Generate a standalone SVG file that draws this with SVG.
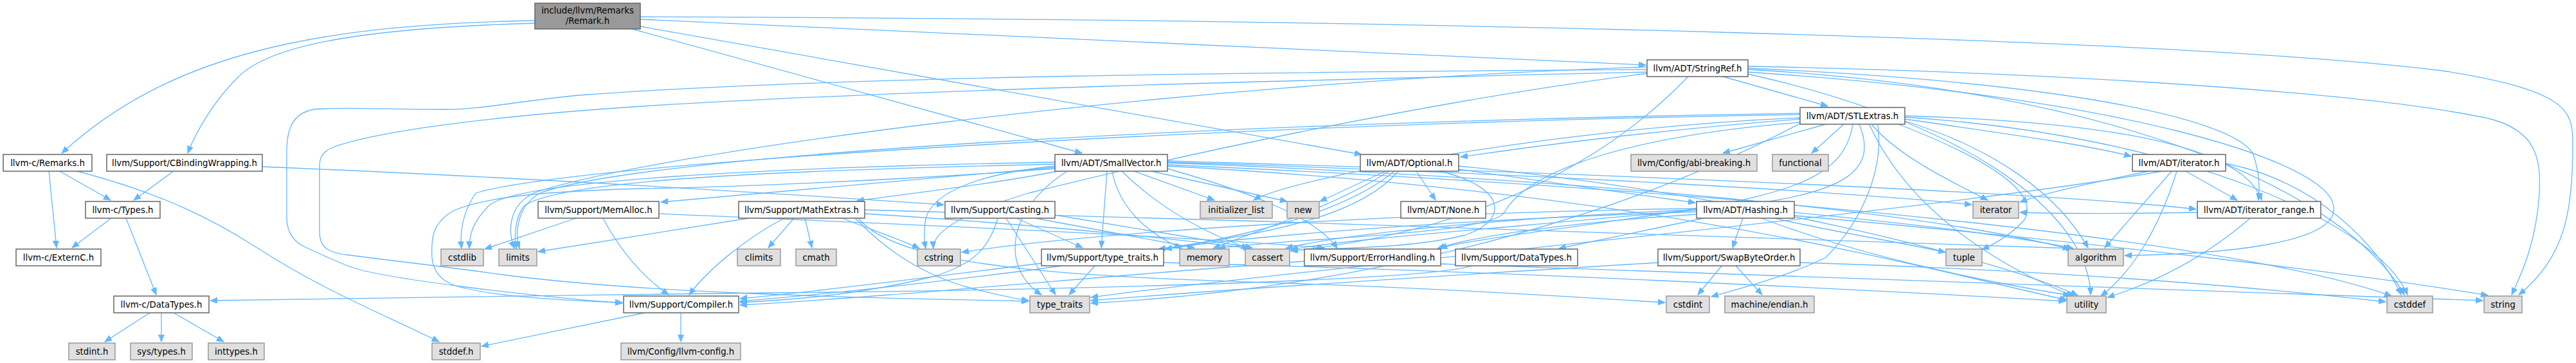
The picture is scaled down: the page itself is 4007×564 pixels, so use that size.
<svg xmlns="http://www.w3.org/2000/svg" width="4007" height="564" viewBox="0 0 4007 564">
<defs>
<marker id="a" markerWidth="12" markerHeight="10" refX="11" refY="4.5" orient="auto" markerUnits="userSpaceOnUse"><path d="M0,0 L11,4.5 L0,9 z" fill="#63b8ff" stroke="#63b8ff" stroke-width="1"/></marker>
<style>
.n rect{fill:#ffffff;stroke:#666666;stroke-width:1.5}
.g rect{fill:#e0e0e0;stroke:#999999;stroke-width:1.5}
.m rect{fill:#999999;stroke:#666666;stroke-width:1.5}
text{font-family:"DejaVu Sans","Liberation Sans",sans-serif;font-size:13.33px;text-anchor:middle;fill:#000000}
#edges path{fill:none;stroke:#63b8ff;stroke-width:1.3;marker-end:url(#a)}
</style>
</defs>
<rect x="0" y="0" width="4007" height="564" fill="#ffffff"/>
<g id="edges">
<path d="M832,32 C480,38 260,88 96,238"/>
<path d="M832,36 C560,44 420,70 370,120 C330,160 305,205 292,238"/>
<path d="M983,45 L1683,238"/>
<path d="M996,41 L2118,240"/>
<path d="M996,30 L2560,101"/>
<path d="M996,26 C2200,30 3400,60 3800,110 C3990,140 4002,170 4002,220 C4002,330 3990,400 3918,458"/>
<path d="M76,266 L88,385"/>
<path d="M93,266 L172,311"/>
<path d="M120,266 C250,300 330,340 400,385 C500,450 600,490 683,531"/>
<path d="M270,266 L208,311"/>
<path d="M408,259 C800,275 1200,300 1468,318"/>
<path d="M173,339 L112,385"/>
<path d="M196,339 L243,458"/>
<path d="M233,486 L163,531"/>
<path d="M251,486 L251,531"/>
<path d="M270,486 L348,531"/>
<path d="M1059,486 L1059,531"/>
<path d="M1003,486 L749,538"/>
<path d="M896,339 L754,387"/>
<path d="M938,339 C965,390 1000,430 1040,458"/>
<path d="M1025,332 C1400,348 1800,365 2060,385"/>
<path d="M1235,339 L1195,385"/>
<path d="M1252,339 L1263,385"/>
<path d="M1165,339 L837,391"/>
<path d="M1220,339 C1160,370 1100,420 1072,458"/>
<path d="M1310,339 C1350,355 1400,372 1430,386"/>
<path d="M1330,339 C1370,380 1420,420 1500,445 C1550,458 1580,464 1600,467"/>
<path d="M1345,332 C1600,348 1800,368 1945,386"/>
<path d="M1345,326 C2000,345 2900,370 3225,386"/>
<path d="M1335,339 C1400,420 1700,430 2000,440 C2300,450 2500,465 2590,470"/>
<path d="M1581,339 L1684,385"/>
<path d="M1565,339 L1642,458"/>
<path d="M1610,339 L1858,385"/>
<path d="M1641,334 L1948,385"/>
<path d="M1552,339 C1540,380 1520,410 1450,430 C1350,455 1250,465 1151,470"/>
<path d="M1703,413 L1663,458"/>
<path d="M1620,409 C1450,430 1300,450 1151,464"/>
<path d="M1810,408 C2300,420 2900,450 3213,468"/>
<path d="M2029,406 C1700,430 1400,460 1151,474"/>
<path d="M2241,410 C2900,430 3500,450 3862,467"/>
<path d="M2290,413 C2200,440 1500,452 1200,455 C900,458 500,465 327,467"/>
<path d="M2678,413 L2641,458"/>
<path d="M2700,413 L2741,458"/>
<path d="M2800,408 C3200,420 3500,445 3711,469"/>
<path d="M2579,408 C2300,425 1900,450 1697,467"/>
<path d="M2711,339 L2695,385"/>
<path d="M2650,339 L2425,386"/>
<path d="M2639,333 C2450,345 2300,365 2236,386"/>
<path d="M2639,329 C2300,340 1950,365 1812,387"/>
<path d="M2791,330 C3000,350 3150,370 3225,386"/>
<path d="M2639,326 C2400,335 2100,360 2000,386"/>
<path d="M2639,324 C2200,330 1700,360 1496,392"/>
<path d="M2791,335 C3300,380 3700,430 3870,459"/>
<path d="M2760,339 C2850,360 2950,375 3026,392"/>
<path d="M2740,339 C2900,400 3100,440 3220,459"/>
<path d="M2155,266 L2053,313"/>
<path d="M2203,266 L2233,311"/>
<path d="M2269,263 L2637,315"/>
<path d="M2169,266 C2080,340 1900,380 1600,420 C1400,445 1250,460 1151,468"/>
<path d="M2175,266 C2120,330 2000,360 1802,387"/>
<path d="M2240,266 C2340,290 2350,340 2280,365 C2200,385 2100,385 2008,389"/>
<path d="M2160,266 C2080,320 1950,360 1887,386"/>
<path d="M2269,258 C2700,300 3100,400 3232,459"/>
<path d="M2680,119 L2843,165"/>
<path d="M2719,106 C3250,130 3480,190 3505,240 C3515,270 3515,290 3513,311"/>
<path d="M2562,108 C2000,112 1300,118 900,148 C800,158 750,170 691,170 C600,170 520,166 488,170 C455,176 446,200 446,237 L446,337 C446,365 460,378 477,385 C510,400 530,410 553,417 C600,432 800,458 968,471"/>
<path d="M2719,112 C3300,150 3620,250 3630,320 C3640,380 3450,395 3305,397"/>
<path d="M2626,119 C2500,250 2300,360 2008,390"/>
<path d="M2719,108 C3300,140 3650,300 3740,458"/>
<path d="M2562,114 C2200,160 1800,250 1600,300 C1500,330 1450,360 1452,386"/>
<path d="M2562,104 C1800,130 1000,240 830,300 C790,320 790,360 800,386"/>
<path d="M2719,103 C3300,115 3700,150 3850,180 C3950,195 3952,250 3950,300 C3945,380 3920,430 3907,458"/>
<path d="M2562,112 C2000,125 1400,140 1000,165 C800,178 600,200 520,228 C500,236 497,245 497,260 L497,360 C497,385 510,392 540,396 C600,404 700,415 783,427 C1000,455 1300,462 1600,468"/>
<path d="M2719,115 C3100,200 3250,350 3252,458"/>
<path d="M2800,185 C2600,200 2400,225 2272,244"/>
<path d="M2963,185 C3100,205 3250,225 3315,243"/>
<path d="M2963,180 C3300,190 3490,230 3518,311"/>
<path d="M2840,193 L2680,238"/>
<path d="M2868,193 L2818,238"/>
<path d="M2882,193 C2870,270 2800,300 2600,330 C2400,360 2270,375 2240,386"/>
<path d="M2963,188 C3100,230 3200,300 3248,385"/>
<path d="M2892,193 C2920,260 2880,300 2700,320 C2400,350 2100,370 2008,388"/>
<path d="M2963,182 C3400,210 3700,350 3745,458"/>
<path d="M2921,194 C2930,260 2900,340 2840,400 C2780,430 2700,450 2662,461"/>
<path d="M2800,178 C2000,190 900,250 740,300 C720,330 715,360 718,386"/>
<path d="M2800,183 C2400,200 2000,280 1950,311"/>
<path d="M2912,194 C2950,240 3030,280 3092,311"/>
<path d="M2800,176 C1900,190 1000,240 840,300 C805,320 800,360 808,386"/>
<path d="M2800,190 C2550,210 2380,260 2340,330 C2320,365 2000,370 1895,386"/>
<path d="M2953,193 C3100,250 3170,300 3150,340 C3130,365 3100,380 3083,388"/>
<path d="M2800,192 C2500,350 2100,450 1697,471"/>
<path d="M2908,194 C2980,350 3150,430 3225,460"/>
<path d="M3400,266 L3480,311"/>
<path d="M3378,266 L3274,385"/>
<path d="M3386,266 C3360,350 3320,420 3268,460"/>
<path d="M3342,266 C3250,285 3180,300 3142,314"/>
<path d="M3462,254 C3600,280 3700,380 3735,458"/>
<path d="M3363,266 C3000,330 2000,420 1697,462"/>
<path d="M3500,339 C3430,400 3350,440 3278,462"/>
<path d="M3418,330 C3300,332 3200,332 3142,330"/>
<path d="M1816,250 C2500,270 3200,300 3416,325"/>
<path d="M1641,262 C1400,280 1150,290 1000,293 C850,297 760,305 706,327 C675,345 670,365 672,400 C674,425 690,437 706,443 C750,458 850,466 968,470"/>
<path d="M1816,262 C1950,300 2050,340 2080,386"/>
<path d="M1645,266 C1550,285 1420,300 1333,312"/>
<path d="M1641,260 C1400,280 1200,298 1028,314"/>
<path d="M1722,266 L1713,385"/>
<path d="M1816,253 C2500,280 3000,330 3220,387"/>
<path d="M1745,266 C1800,320 1870,360 1942,386"/>
<path d="M1816,256 C2800,300 3500,380 3720,460"/>
<path d="M1641,252 C1200,260 800,280 760,320 C735,345 730,365 730,386"/>
<path d="M1641,258 C1520,270 1450,300 1440,340 C1436,360 1438,375 1440,386"/>
<path d="M1764,266 L1889,311"/>
<path d="M1816,252 C2400,270 2900,300 3067,318"/>
<path d="M1641,255 C1200,265 870,280 815,320 C800,340 800,370 803,386"/>
<path d="M1730,266 C1740,320 1780,360 1838,386"/>
<path d="M1791,266 L2002,313"/>
<path d="M1660,266 C1560,330 1560,420 1620,458"/>
<path d="M1816,258 C2600,300 3000,420 3215,466"/>
</g>
<g id="main" class="m"><rect x="832" y="5" width="164" height="40"/><text x="914" y="21">include/llvm/Remarks</text><text x="914" y="37">/Remark.h</text></g>
<g id="stringref" class="n"><rect x="2562" y="93" width="157" height="26"/><text x="2640.5" y="110.5">llvm/ADT/StringRef.h</text></g>
<g id="stlextras" class="n"><rect x="2800" y="167" width="163" height="26"/><text x="2881.5" y="184.5">llvm/ADT/STLExtras.h</text></g>
<g id="remarks" class="n"><rect x="5" y="240" width="138" height="26"/><text x="74" y="257.5">llvm-c/Remarks.h</text></g>
<g id="cbind" class="n"><rect x="166" y="240" width="242" height="26"/><text x="287" y="257.5">llvm/Support/CBindingWrapping.h</text></g>
<g id="smallvec" class="n"><rect x="1641" y="240" width="175" height="26"/><text x="1728.5" y="257.5">llvm/ADT/SmallVector.h</text></g>
<g id="optional" class="n"><rect x="2116" y="240" width="153" height="26"/><text x="2192.5" y="257.5">llvm/ADT/Optional.h</text></g>
<g id="abi" class="g"><rect x="2537" y="240" width="196" height="26"/><text x="2635" y="257.5">llvm/Config/abi-breaking.h</text></g>
<g id="functional" class="g"><rect x="2757" y="240" width="87" height="26"/><text x="2800.5" y="257.5">functional</text></g>
<g id="iterh" class="n"><rect x="3317" y="240" width="145" height="26"/><text x="3389.5" y="257.5">llvm/ADT/iterator.h</text></g>
<g id="types" class="n"><rect x="133" y="313" width="116" height="26"/><text x="191" y="330.5">llvm-c/Types.h</text></g>
<g id="memalloc" class="n"><rect x="837" y="313" width="188" height="26"/><text x="931" y="330.5">llvm/Support/MemAlloc.h</text></g>
<g id="mathext" class="n"><rect x="1149" y="313" width="196" height="26"/><text x="1247" y="330.5">llvm/Support/MathExtras.h</text></g>
<g id="casting" class="n"><rect x="1470" y="313" width="171" height="26"/><text x="1555.5" y="330.5">llvm/Support/Casting.h</text></g>
<g id="initlist" class="g"><rect x="1867" y="313" width="112" height="26"/><text x="1923" y="330.5">initializer_list</text></g>
<g id="new" class="g"><rect x="2002" y="313" width="50" height="26"/><text x="2027" y="330.5">new</text></g>
<g id="none" class="n"><rect x="2179" y="313" width="132" height="26"/><text x="2245" y="330.5">llvm/ADT/None.h</text></g>
<g id="hashing" class="n"><rect x="2639" y="313" width="152" height="26"/><text x="2715" y="330.5">llvm/ADT/Hashing.h</text></g>
<g id="iterator" class="g"><rect x="3069" y="313" width="71" height="26"/><text x="3104.5" y="330.5">iterator</text></g>
<g id="iterrange" class="n"><rect x="3418" y="313" width="192" height="26"/><text x="3514" y="330.5">llvm/ADT/iterator_range.h</text></g>
<g id="externc" class="n"><rect x="25" y="387" width="132" height="26"/><text x="91" y="404.5">llvm-c/ExternC.h</text></g>
<g id="cstdlib" class="g"><rect x="686" y="387" width="66" height="26"/><text x="719" y="404.5">cstdlib</text></g>
<g id="limits" class="g"><rect x="776" y="387" width="59" height="26"/><text x="805.5" y="404.5">limits</text></g>
<g id="climits" class="g"><rect x="1147" y="387" width="67" height="26"/><text x="1180.5" y="404.5">climits</text></g>
<g id="cmath" class="g"><rect x="1238" y="387" width="63" height="26"/><text x="1269.5" y="404.5">cmath</text></g>
<g id="cstring" class="g"><rect x="1427" y="387" width="67" height="26"/><text x="1460.5" y="404.5">cstring</text></g>
<g id="typetraitsh" class="n"><rect x="1620" y="387" width="190" height="26"/><text x="1715" y="404.5">llvm/Support/type_traits.h</text></g>
<g id="memory" class="g"><rect x="1835" y="387" width="77" height="26"/><text x="1873.5" y="404.5">memory</text></g>
<g id="cassert" class="g"><rect x="1937" y="387" width="69" height="26"/><text x="1971.5" y="404.5">cassert</text></g>
<g id="errhand" class="n"><rect x="2029" y="387" width="212" height="26"/><text x="2135" y="404.5">llvm/Support/ErrorHandling.h</text></g>
<g id="sdatatypes" class="n"><rect x="2264" y="387" width="190" height="26"/><text x="2359" y="404.5">llvm/Support/DataTypes.h</text></g>
<g id="swap" class="n"><rect x="2579" y="387" width="221" height="26"/><text x="2689.5" y="404.5">llvm/Support/SwapByteOrder.h</text></g>
<g id="tuple" class="g"><rect x="3027" y="387" width="56" height="26"/><text x="3055" y="404.5">tuple</text></g>
<g id="algorithm" class="g"><rect x="3217" y="387" width="86" height="26"/><text x="3260" y="404.5">algorithm</text></g>
<g id="cdatatypes" class="n"><rect x="177" y="460" width="148" height="26"/><text x="251" y="477.5">llvm-c/DataTypes.h</text></g>
<g id="compiler" class="n"><rect x="970" y="460" width="179" height="26"/><text x="1059.5" y="477.5">llvm/Support/Compiler.h</text></g>
<g id="typetraits" class="g"><rect x="1602" y="460" width="93" height="26"/><text x="1648.5" y="477.5">type_traits</text></g>
<g id="cstdint" class="g"><rect x="2592" y="460" width="67" height="26"/><text x="2625.5" y="477.5">cstdint</text></g>
<g id="endian" class="g"><rect x="2683" y="460" width="139" height="26"/><text x="2752.5" y="477.5">machine/endian.h</text></g>
<g id="utility" class="g"><rect x="3215" y="460" width="61" height="26"/><text x="3245.5" y="477.5">utility</text></g>
<g id="cstddef" class="g"><rect x="3713" y="460" width="71" height="26"/><text x="3748.5" y="477.5">cstddef</text></g>
<g id="string" class="g"><rect x="3864" y="460" width="59" height="26"/><text x="3893.5" y="477.5">string</text></g>
<g id="stdint" class="g"><rect x="107" y="533" width="72" height="26"/><text x="143" y="550.5">stdint.h</text></g>
<g id="systypes" class="g"><rect x="203" y="533" width="96" height="26"/><text x="251" y="550.5">sys/types.h</text></g>
<g id="inttypes" class="g"><rect x="324" y="533" width="87" height="26"/><text x="367.5" y="550.5">inttypes.h</text></g>
<g id="stddef" class="g"><rect x="672" y="533" width="75" height="26"/><text x="709.5" y="550.5">stddef.h</text></g>
<g id="llvmconfig" class="g"><rect x="966" y="533" width="186" height="26"/><text x="1059" y="550.5">llvm/Config/llvm-config.h</text></g>
</svg>
